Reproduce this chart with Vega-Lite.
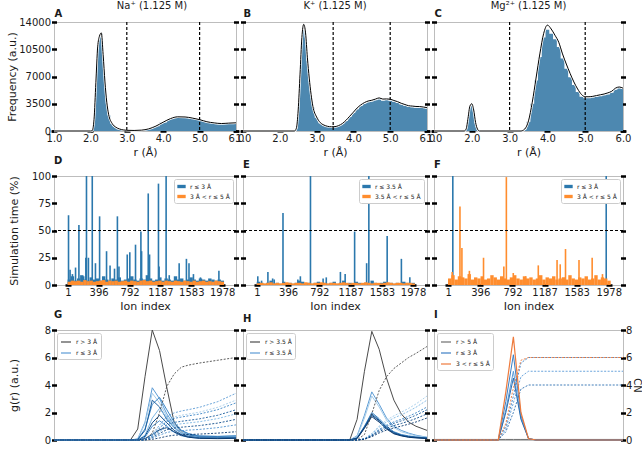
{
  "$schema": "https://vega.github.io/schema/vega-lite/v6.json",
  "background": "white",
  "padding": {"left": 6, "top": 0, "right": 0, "bottom": 0},
  "config": {
    "font": "DejaVu Sans",
    "view": {"stroke": "#bdbdbd", "strokeWidth": 1},
    "axis": {"grid": false, "domain": false, "tickColor": "#000000", "labelColor": "#1a1a1a", "titleColor": "#1a1a1a", "labelFontSize": 10, "titleFontSize": 11, "titleFontWeight": "normal", "labelFlush": false, "labelOverlap": false},
    "axisLeft": {"tickSize": 5, "tickWidth": 2.5, "offset": -2.5, "labelPadding": 1, "titlePadding": 1},
    "axisRight": {"tickSize": 5, "tickWidth": 2.5, "offset": -2.5, "labelPadding": 0, "titlePadding": 0},
    "axisBottom": {"tickSize": 2.5, "tickWidth": 6, "offset": -1.25, "labelPadding": 1, "titlePadding": 3},
    "axisTop": {"ticks": false, "labels": false, "domain": false, "titleFontWeight": "bold", "titleFontSize": 10, "titleAnchor": "start", "titlePadding": 4},
    "title": {"fontSize": 10, "fontWeight": "normal", "color": "#1a1a1a", "frame": "group", "offset": 0},
    "legend": {"title": null, "padding": 3, "strokeColor": "#cccccc", "fillColor": "white", "labelFontSize": 6, "rowPadding": 2, "labelColor": "#1a1a1a", "cornerRadius": 2}
  },
  "datasets": {
    "hA": [
      {"r":1.0,"h":0,"k":0},{"r":2.0,"h":0,"k":0},{"r":2.05,"h":0,"k":50},{"r":2.1,"h":1500,"k":1500},{"r":2.15,"h":6000,"k":6200},{"r":2.2,"h":10500,"k":10800},{"r":2.25,"h":12000,"k":12200},{"r":2.3,"h":12500,"k":12600},{"r":2.35,"h":9500,"k":9800},{"r":2.4,"h":6000,"k":6300},{"r":2.45,"h":3500,"k":3700},{"r":2.5,"h":2000,"k":2150},{"r":2.6,"h":900,"k":950},{"r":2.7,"h":450,"k":480},{"r":2.8,"h":250,"k":260},{"r":2.9,"h":130,"k":140},{"r":3.0,"h":80,"k":90},{"r":3.2,"h":60,"k":70},{"r":3.4,"h":100,"k":110},{"r":3.6,"h":250,"k":270},{"r":3.8,"h":600,"k":630},{"r":4.0,"h":1100,"k":1130},{"r":4.2,"h":1550,"k":1590},{"r":4.4,"h":1780,"k":1820},{"r":4.6,"h":1760,"k":1800},{"r":4.8,"h":1620,"k":1660},{"r":5.0,"h":1420,"k":1460},{"r":5.2,"h":1150,"k":1190},{"r":5.4,"h":1000,"k":1040},{"r":5.6,"h":920,"k":960},{"r":5.8,"h":980,"k":1010},{"r":6.0,"h":1020,"k":1050}
    ],
    "hB": [
      {"r":1.0,"h":0,"k":0},{"r":2.4,"h":0,"k":0},{"r":2.45,"h":300,"k":350},{"r":2.5,"h":2500,"k":2700},{"r":2.55,"h":7000,"k":7300},{"r":2.6,"h":11500,"k":12000},{"r":2.65,"h":13000,"k":13700},{"r":2.7,"h":12000,"k":12600},{"r":2.75,"h":9000,"k":9400},{"r":2.8,"h":6500,"k":6800},{"r":2.85,"h":4500,"k":4700},{"r":2.9,"h":3000,"k":3150},{"r":3.0,"h":1700,"k":1800},{"r":3.1,"h":1000,"k":1080},{"r":3.2,"h":700,"k":760},{"r":3.3,"h":550,"k":600},{"r":3.4,"h":500,"k":540},{"r":3.5,"h":520,"k":560},{"r":3.6,"h":650,"k":700},{"r":3.7,"h":900,"k":960},{"r":3.8,"h":1300,"k":1380},{"r":3.9,"h":1800,"k":1900},{"r":4.0,"h":2300,"k":2420},{"r":4.1,"h":2800,"k":2950},{"r":4.2,"h":3200,"k":3350},{"r":4.3,"h":3500,"k":3650},{"r":4.4,"h":3700,"k":3850},{"r":4.5,"h":3800,"k":3950},{"r":4.6,"h":3950,"k":4100},{"r":4.7,"h":4050,"k":4250},{"r":4.8,"h":3900,"k":4100},{"r":4.9,"h":3950,"k":4120},{"r":5.0,"h":3900,"k":4080},{"r":5.1,"h":3750,"k":3920},{"r":5.2,"h":3600,"k":3770},{"r":5.3,"h":3400,"k":3560},{"r":5.4,"h":3250,"k":3400},{"r":5.5,"h":3100,"k":3250},{"r":5.6,"h":3050,"k":3200},{"r":5.7,"h":3000,"k":3150},{"r":5.8,"h":3000,"k":3140},{"r":5.9,"h":2950,"k":3080},{"r":6.0,"h":2900,"k":3000}
    ],
    "hC": [
      {"r":1.0,"h":0,"k":0},{"r":1.8,"h":0,"k":0},{"r":1.85,"h":200,"k":250},{"r":1.9,"h":1500,"k":1650},{"r":1.95,"h":3000,"k":3200},{"r":2.0,"h":3300,"k":3500},{"r":2.05,"h":2500,"k":2700},{"r":2.1,"h":1000,"k":1100},{"r":2.15,"h":200,"k":250},{"r":2.2,"h":0,"k":0},{"r":3.3,"h":0,"k":0},{"r":3.4,"h":200,"k":250},{"r":3.5,"h":1200,"k":1300},{"r":3.6,"h":3500,"k":3700},{"r":3.7,"h":6500,"k":6800},{"r":3.8,"h":9500,"k":9900},{"r":3.9,"h":12000,"k":12500},{"r":4.0,"h":13000,"k":13600},{"r":4.1,"h":12500,"k":13100},{"r":4.2,"h":11800,"k":12300},{"r":4.3,"h":10800,"k":11400},{"r":4.4,"h":9300,"k":9900},{"r":4.5,"h":8000,"k":8600},{"r":4.6,"h":6900,"k":7400},{"r":4.7,"h":5900,"k":6300},{"r":4.8,"h":5000,"k":5400},{"r":4.9,"h":4400,"k":4700},{"r":5.0,"h":4200,"k":4400},{"r":5.1,"h":4200,"k":4400},{"r":5.2,"h":4300,"k":4450},{"r":5.3,"h":4400,"k":4550},{"r":5.4,"h":4450,"k":4650},{"r":5.5,"h":4600,"k":4750},{"r":5.6,"h":4700,"k":4900},{"r":5.7,"h":4900,"k":5100},{"r":5.8,"h":5300,"k":5500},{"r":5.9,"h":5500,"k":5650},{"r":6.0,"h":5400,"k":5500}
    ],
    "bD": [
      {"i":20,"b":5,"o":3},{"i":60,"b":8,"o":4},{"i":100,"b":4,"o":3.5},{"i":140,"b":6,"o":4},{"i":180,"b":9,"o":3},{"i":220,"b":5,"o":4.5},{"i":260,"b":4,"o":3.5},{"i":300,"b":7,"o":4},{"i":340,"b":5,"o":3},{"i":380,"b":6,"o":3.5},{"i":420,"b":4,"o":4},{"i":460,"b":8,"o":4.5},{"i":500,"b":5,"o":3},{"i":540,"b":4,"o":4},{"i":580,"b":6,"o":3.5},{"i":620,"b":5,"o":4},{"i":660,"b":7,"o":3},{"i":700,"b":4,"o":3.5},{"i":740,"b":5,"o":4},{"i":780,"b":6,"o":3},{"i":820,"b":8,"o":4},{"i":860,"b":5,"o":3.5},{"i":900,"b":4,"o":3},{"i":940,"b":6,"o":4},{"i":980,"b":5,"o":4.5},{"i":1020,"b":9,"o":3.5},{"i":1060,"b":6,"o":4},{"i":1100,"b":4,"o":3},{"i":1140,"b":5,"o":3.5},{"i":1180,"b":7,"o":4},{"i":1220,"b":4,"o":3},{"i":1260,"b":6,"o":4},{"i":1300,"b":5,"o":3.5},{"i":1340,"b":4,"o":3},{"i":1380,"b":8,"o":4},{"i":1420,"b":5,"o":3.5},{"i":1460,"b":6,"o":3},{"i":1500,"b":4,"o":4},{"i":1540,"b":5,"o":3.5},{"i":1580,"b":7,"o":3},{"i":1620,"b":5,"o":4},{"i":1660,"b":4,"o":3},{"i":1700,"b":6,"o":3.5},{"i":1740,"b":5,"o":4},{"i":1780,"b":4,"o":3},{"i":1820,"b":6,"o":3.5},{"i":1860,"b":5,"o":3},{"i":1900,"b":4,"o":4},{"i":1940,"b":5,"o":3.5},{"i":1980,"b":4,"o":3}
    ],
    "pD": [
      {"i":10,"b":64},{"i":30,"b":14},{"i":60,"b":10},{"i":100,"b":16},{"i":143,"b":55},{"i":204,"b":8},{"i":232,"b":25},{"i":240,"b":100},{"i":265,"b":25},{"i":314,"b":100},{"i":355,"b":20},{"i":408,"b":63},{"i":497,"b":31},{"i":542,"b":18},{"i":599,"b":15},{"i":636,"b":63},{"i":656,"b":17},{"i":762,"b":28},{"i":795,"b":30},{"i":868,"b":37},{"i":937,"b":49},{"i":946,"b":31},{"i":1031,"b":84},{"i":1048,"b":28},{"i":1162,"b":93},{"i":1170,"b":17},{"i":1260,"b":100},{"i":1300,"b":9},{"i":1427,"b":20},{"i":1520,"b":24},{"i":1553,"b":20},{"i":1610,"b":10},{"i":1700,"b":7},{"i":1936,"b":13}
    ],
    "bE": [
      {"i":20,"b":3,"o":1.5},{"i":60,"b":2,"o":2},{"i":100,"b":1,"o":1.5},{"i":140,"b":2,"o":2},{"i":180,"b":4,"o":2.5},{"i":220,"b":1,"o":1.5},{"i":260,"b":2,"o":2},{"i":300,"b":1,"o":1.5},{"i":340,"b":3,"o":2},{"i":380,"b":1,"o":2.5},{"i":420,"b":2,"o":2},{"i":460,"b":1,"o":1.5},{"i":500,"b":2,"o":2},{"i":540,"b":4,"o":2},{"i":580,"b":3,"o":1.5},{"i":620,"b":1,"o":2.5},{"i":660,"b":2,"o":2},{"i":700,"b":1,"o":1.5},{"i":740,"b":2,"o":2},{"i":780,"b":3,"o":2},{"i":820,"b":1,"o":2.5},{"i":860,"b":2,"o":2},{"i":900,"b":1,"o":1.5},{"i":940,"b":2,"o":2},{"i":980,"b":3,"o":2},{"i":1020,"b":1,"o":1.5},{"i":1060,"b":2,"o":2},{"i":1100,"b":4,"o":2.5},{"i":1140,"b":1,"o":2},{"i":1180,"b":2,"o":1.5},{"i":1220,"b":1,"o":2},{"i":1260,"b":3,"o":2},{"i":1300,"b":2,"o":1.5},{"i":1340,"b":1,"o":2},{"i":1380,"b":2,"o":2.5},{"i":1420,"b":1,"o":2},{"i":1460,"b":4,"o":1.5},{"i":1500,"b":2,"o":2},{"i":1540,"b":1,"o":2},{"i":1580,"b":2,"o":1.5},{"i":1620,"b":3,"o":2},{"i":1660,"b":1,"o":2.5},{"i":1700,"b":2,"o":2},{"i":1740,"b":1,"o":1.5},{"i":1780,"b":2,"o":2},{"i":1820,"b":1,"o":2},{"i":1860,"b":3,"o":1.5},{"i":1900,"b":2,"o":2},{"i":1940,"b":1,"o":2},{"i":1980,"b":2,"o":1.5}
    ],
    "pE": [
      {"i":12,"b":8},{"i":60,"b":4},{"i":140,"b":12},{"i":200,"b":6},{"i":220,"b":5},{"i":331,"b":66},{"i":519,"b":5},{"i":551,"b":8},{"i":679,"b":100},{"i":839,"b":6},{"i":879,"b":7},{"i":1058,"b":12},{"i":1118,"b":10},{"i":1238,"b":49},{"i":1390,"b":20},{"i":1418,"b":100},{"i":1650,"b":45},{"i":1830,"b":24},{"i":1937,"b":7}
    ],
    "bF": [
      {"i":20,"o":6},{"i":60,"o":9},{"i":100,"o":5},{"i":140,"o":8},{"i":180,"o":7},{"i":220,"o":6},{"i":260,"o":10},{"i":300,"o":5},{"i":340,"o":7},{"i":380,"o":6},{"i":420,"o":8},{"i":460,"o":5},{"i":500,"o":6},{"i":540,"o":9},{"i":580,"o":7},{"i":620,"o":5},{"i":660,"o":8},{"i":700,"o":6},{"i":740,"o":5},{"i":780,"o":7},{"i":820,"o":9},{"i":860,"o":6},{"i":900,"o":5},{"i":940,"o":8},{"i":980,"o":6},{"i":1020,"o":7},{"i":1060,"o":5},{"i":1100,"o":6},{"i":1140,"o":9},{"i":1180,"o":5},{"i":1220,"o":7},{"i":1260,"o":6},{"i":1300,"o":8},{"i":1340,"o":5},{"i":1380,"o":6},{"i":1420,"o":7},{"i":1460,"o":5},{"i":1500,"o":9},{"i":1540,"o":6},{"i":1580,"o":5},{"i":1620,"o":7},{"i":1660,"o":6},{"i":1700,"o":8},{"i":1740,"o":5},{"i":1780,"o":6},{"i":1820,"o":9},{"i":1860,"o":5},{"i":1900,"o":7},{"i":1940,"o":6},{"i":1980,"o":4}
    ],
    "pF": [
      {"i":58,"b":100},{"i":1946,"b":100},
      {"i":50,"o":12},{"i":146,"o":72},{"i":170,"o":34},{"i":262,"o":13},{"i":436,"o":25},{"i":686,"o":17},{"i":717,"o":99},{"i":802,"o":11},{"i":956,"o":8},{"i":1110,"o":18},{"i":1341,"o":23},{"i":1380,"o":19},{"i":1445,"o":33},{"i":1611,"o":23},{"i":1773,"o":25},{"i":1900,"o":10}
    ],
    "lG": [
      {"r":1.0,"k":0,"kc":0,"s1":0,"s2":0,"s3":0,"s4":0,"s5":0,"s6":0,"s7":0,"s8":0,"c1":0,"c2":0,"c3":0,"c4":0,"c5":0,"c6":0,"c7":0,"c8":0},
      {"r":2.05,"k":0,"kc":0,"s1":0,"s2":0,"s3":0,"s4":0,"s5":0,"s6":0,"s7":0,"s8":0,"c1":0,"c2":0,"c3":0,"c4":0,"c5":0,"c6":0,"c7":0,"c8":0},
      {"r":2.15,"k":0.8,"kc":0,"s1":0.08,"s2":0.07,"s3":0.05,"s4":0.04,"s5":0,"s6":0,"s7":0,"s8":0,"c1":0,"c2":0,"c3":0,"c4":0,"c5":0,"c6":0,"c7":0,"c8":0},
      {"r":2.25,"k":4.6,"kc":0.05,"s1":1.3,"s2":1.2,"s3":0.8,"s4":0.7,"s5":0.35,"s6":0.27,"s7":0.2,"s8":0.1,"c1":0.03,"c2":0.03,"c3":0.03,"c4":0.02,"c5":0.02,"c6":0.02,"c7":0.01,"c8":0},
      {"r":2.35,"k":8.0,"kc":0.5,"s1":3.8,"s2":3.4,"s3":2.6,"s4":2.9,"s5":1.6,"s6":1.25,"s7":1.0,"s8":0.4,"c1":0.41,"c2":0.35,"c3":0.32,"c4":0.26,"c5":0.23,"c6":0.18,"c7":0.13,"c8":0.05},
      {"r":2.45,"k":6.5,"kc":2.0,"s1":3.0,"s2":2.7,"s3":3.1,"s4":2.4,"s5":2.3,"s6":1.8,"s7":1.4,"s8":0.75,"c1":1.09,"c2":0.93,"c3":0.86,"c4":0.7,"c5":0.61,"c6":0.48,"c7":0.35,"c8":0.15},
      {"r":2.55,"k":3.8,"kc":3.9,"s1":1.9,"s2":1.7,"s3":2.2,"s4":1.5,"s5":1.6,"s6":1.25,"s7":1.0,"s8":0.9,"c1":1.7,"c2":1.45,"c3":1.35,"c4":1.1,"c5":0.95,"c6":0.75,"c7":0.55,"c8":0.27},
      {"r":2.65,"k":1.3,"kc":4.8,"s1":1.1,"s2":1.0,"s3":1.3,"s4":0.9,"s5":0.9,"s6":0.7,"s7":0.56,"s8":0.6,"c1":1.97,"c2":1.68,"c3":1.57,"c4":1.28,"c5":1.1,"c6":0.87,"c7":0.64,"c8":0.35},
      {"r":2.75,"k":0.6,"kc":5.3,"s1":0.7,"s2":0.6,"s3":0.7,"s4":0.5,"s5":0.5,"s6":0.4,"s7":0.31,"s8":0.35,"c1":2.11,"c2":1.8,"c3":1.67,"c4":1.36,"c5":1.18,"c6":0.93,"c7":0.68,"c8":0.38},
      {"r":2.85,"k":0.4,"kc":5.45,"s1":0.45,"s2":0.4,"s3":0.45,"s4":0.35,"s5":0.3,"s6":0.25,"s7":0.2,"s8":0.2,"c1":2.21,"c2":1.89,"c3":1.76,"c4":1.43,"c5":1.24,"c6":0.98,"c7":0.72,"c8":0.4},
      {"r":3.0,"k":0.27,"kc":5.6,"s1":0.3,"s2":0.27,"s3":0.28,"s4":0.23,"s5":0.2,"s6":0.16,"s7":0.13,"s8":0.12,"c1":2.38,"c2":2.03,"c3":1.89,"c4":1.54,"c5":1.33,"c6":1.05,"c7":0.77,"c8":0.43},
      {"r":3.25,"k":0.2,"kc":5.8,"s1":0.27,"s2":0.24,"s3":0.25,"s4":0.2,"s5":0.18,"s6":0.15,"s7":0.11,"s8":0.1,"c1":2.79,"c2":2.38,"c3":2.21,"c4":1.8,"c5":1.56,"c6":1.23,"c7":0.9,"c8":0.5},
      {"r":3.5,"k":0.2,"kc":6.0,"s1":0.3,"s2":0.27,"s3":0.3,"s4":0.22,"s5":0.22,"s6":0.18,"s7":0.14,"s8":0.12,"c1":3.4,"c2":2.9,"c3":2.7,"c4":2.2,"c5":1.9,"c6":1.5,"c7":1.1,"c8":0.6}
    ],
    "lH": [
      {"r":1.0,"k":0,"kc":0,"s1":0,"s2":0,"s3":0,"s4":0,"s5":0,"s6":0,"c1":0,"c2":0,"c3":0,"c4":0,"c5":0,"c6":0},
      {"r":2.45,"k":0,"kc":0,"s1":0,"s2":0,"s3":0,"s4":0,"s5":0,"s6":0,"c1":0,"c2":0,"c3":0,"c4":0,"c5":0,"c6":0},
      {"r":2.55,"k":1.5,"kc":0,"s1":0.3,"s2":0.25,"s3":0.15,"s4":0.15,"s5":0.12,"s6":0.1,"c1":0,"c2":0,"c3":0,"c4":0,"c5":0,"c6":0},
      {"r":2.65,"k":5.0,"kc":0.4,"s1":1.8,"s2":1.6,"s3":1.0,"s4":0.95,"s5":0.9,"s6":0.85,"c1":0.1,"c2":0.09,"c3":0.07,"c4":0.07,"c5":0.06,"c6":0.05},
      {"r":2.75,"k":7.9,"kc":1.9,"s1":3.5,"s2":3.2,"s3":2.0,"s4":1.9,"s5":1.8,"s6":1.7,"c1":0.48,"c2":0.44,"c3":0.36,"c4":0.33,"c5":0.29,"c6":0.24},
      {"r":2.85,"k":6.6,"kc":3.6,"s1":2.6,"s2":2.4,"s3":1.55,"s4":1.45,"s5":1.4,"s6":1.3,"c1":1.02,"c2":0.93,"c3":0.77,"c4":0.7,"c5":0.61,"c6":0.51},
      {"r":2.95,"k":4.5,"kc":4.6,"s1":1.6,"s2":1.45,"s3":1.0,"s4":0.9,"s5":0.85,"s6":0.8,"c1":1.44,"c2":1.31,"c3":1.08,"c4":0.99,"c5":0.86,"c6":0.72},
      {"r":3.05,"k":2.9,"kc":5.2,"s1":1.0,"s2":0.9,"s3":0.6,"s4":0.55,"s5":0.5,"s6":0.45,"c1":1.76,"c2":1.6,"c3":1.32,"c4":1.21,"c5":1.05,"c6":0.88},
      {"r":3.15,"k":1.9,"kc":5.6,"s1":0.7,"s2":0.6,"s3":0.4,"s4":0.35,"s5":0.33,"s6":0.3,"c1":2.02,"c2":1.83,"c3":1.51,"c4":1.39,"c5":1.2,"c6":1.01},
      {"r":3.25,"k":1.3,"kc":6.0,"s1":0.5,"s2":0.45,"s3":0.3,"s4":0.25,"s5":0.22,"s6":0.2,"c1":2.3,"c2":2.09,"c3":1.73,"c4":1.58,"c5":1.37,"c6":1.15},
      {"r":3.35,"k":1.0,"kc":6.3,"s1":0.35,"s2":0.3,"s3":0.22,"s4":0.2,"s5":0.18,"s6":0.15,"c1":2.62,"c2":2.38,"c3":1.97,"c4":1.8,"c5":1.56,"c6":1.31},
      {"r":3.5,"k":0.7,"kc":6.8,"s1":0.2,"s2":0.2,"s3":0.15,"s4":0.15,"s5":0.12,"s6":0.1,"c1":3.2,"c2":2.9,"c3":2.4,"c4":2.2,"c5":1.9,"c6":1.6}
    ],
    "lI": [
      {"r":1.0,"k":0.04,"s1":0,"s2":0,"s3":0,"c1":0,"c2":0,"c3":0,"o":0,"oc":0},
      {"r":1.85,"k":0.04,"s1":0,"s2":0,"s3":0,"c1":0,"c2":0,"c3":0,"o":0,"oc":0},
      {"r":1.95,"k":0.04,"s1":2.8,"s2":2.2,"s3":2.0,"c1":1.0,"c2":0.8,"c3":0.6,"o":3.5,"oc":1.2},
      {"r":2.05,"k":0.04,"s1":6.2,"s2":5.0,"s3":4.5,"c1":3.2,"c2":2.7,"c3":2.0,"o":7.5,"oc":3.8},
      {"r":2.15,"k":0.04,"s1":1.8,"s2":1.6,"s3":1.5,"c1":5.6,"c2":4.6,"c3":3.7,"o":2.0,"oc":5.8},
      {"r":2.25,"k":0.04,"s1":0.1,"s2":0.1,"s3":0.1,"c1":6.0,"c2":5.0,"c3":4.0,"o":0.1,"oc":6.0},
      {"r":2.35,"k":0.04,"s1":0,"s2":0,"s3":0,"c1":6.0,"c2":5.0,"c3":4.0,"o":0,"oc":6.0},
      {"r":3.5,"k":0.04,"s1":0,"s2":0,"s3":0,"c1":6.0,"c2":5.0,"c3":4.0,"o":0,"oc":6.0}
    ]
  },
  "columns": 3,
  "spacing": {"row": 45, "column": 7},
  "bounds": "flush",
  "resolve": {"scale": {"color": "independent"}},
  "concat": [
    {
      "width": 182, "height": 109,
      "title": {"text": "Na⁺ (1.125 M)", "dx": 7, "offset": -3},
      "data": {"name": "hA"},
      "layer": [
        {"mark": {"type": "area", "interpolate": "step", "color": "#4d88b0"},
         "encoding": {
           "x": {"field": "r", "type": "quantitative", "scale": {"domain": [1, 6], "nice": false}, "axis": {"values": [1, 2, 3, 4, 5, 6], "format": ".1f", "title": "r (Å)"}},
           "y": {"field": "h", "type": "quantitative", "scale": {"domain": [0, 14000], "nice": false}, "axis": {"values": [0, 3500, 7000, 10500, 14000], "format": "d", "title": "Frequency (a.u.)"}}}},
        {"mark": {"type": "line", "interpolate": "monotone", "color": "white", "strokeWidth": 2.4},
         "encoding": {"x": {"field": "r", "type": "quantitative", "axis": null}, "y": {"field": "k", "type": "quantitative", "axis": null}}},
        {"mark": {"type": "line", "interpolate": "monotone", "color": "black", "strokeWidth": 1},
         "encoding": {"x": {"field": "r", "type": "quantitative", "axis": null}, "y": {"field": "k", "type": "quantitative", "axis": {"orient": "right", "values": [0, 3500, 7000, 10500, 14000], "labels": false, "title": null}}}},
        {"data": {"values": [{"r": 3}, {"r": 5}]},
         "mark": {"type": "rule", "strokeDash": [3, 2], "color": "black", "strokeWidth": 1.2},
         "encoding": {"x": {"field": "r", "type": "quantitative", "axis": {"orient": "top", "title": "A"}}}}
      ],
      "resolve": {"axis": {"x": "independent", "y": "independent"}}
    },
    {
      "width": 184, "height": 109,
      "title": {"text": "K⁺ (1.125 M)", "offset": -3},
      "data": {"name": "hB"},
      "layer": [
        {"mark": {"type": "area", "interpolate": "step", "color": "#4d88b0"},
         "encoding": {
           "x": {"field": "r", "type": "quantitative", "scale": {"domain": [1, 6], "nice": false}, "axis": {"values": [1, 2, 3, 4, 5, 6], "format": ".1f", "title": "r (Å)"}},
           "y": {"field": "h", "type": "quantitative", "scale": {"domain": [0, 14000], "nice": false}, "axis": {"values": [0, 3500, 7000, 10500, 14000], "labels": false, "title": null}}}},
        {"mark": {"type": "line", "interpolate": "monotone", "color": "white", "strokeWidth": 2.4},
         "encoding": {"x": {"field": "r", "type": "quantitative", "axis": null}, "y": {"field": "k", "type": "quantitative", "axis": null}}},
        {"mark": {"type": "line", "interpolate": "monotone", "color": "black", "strokeWidth": 1},
         "encoding": {"x": {"field": "r", "type": "quantitative", "axis": null}, "y": {"field": "k", "type": "quantitative", "axis": {"orient": "right", "values": [0, 3500, 7000, 10500, 14000], "labels": false, "title": null}}}},
        {"data": {"values": [{"r": 3.45}, {"r": 5}]},
         "mark": {"type": "rule", "strokeDash": [3, 2], "color": "black", "strokeWidth": 1.2},
         "encoding": {"x": {"field": "r", "type": "quantitative", "axis": {"orient": "top", "title": "B"}}}}
      ],
      "resolve": {"axis": {"x": "independent", "y": "independent"}}
    },
    {
      "width": 189, "height": 109,
      "title": {"text": "Mg²⁺ (1.125 M)", "offset": -3},
      "data": {"name": "hC"},
      "layer": [
        {"mark": {"type": "area", "interpolate": "step", "color": "#4d88b0"},
         "encoding": {
           "x": {"field": "r", "type": "quantitative", "scale": {"domain": [1, 6], "nice": false}, "axis": {"values": [1, 2, 3, 4, 5, 6], "format": ".1f", "title": "r (Å)"}},
           "y": {"field": "h", "type": "quantitative", "scale": {"domain": [0, 14000], "nice": false}, "axis": {"values": [0, 3500, 7000, 10500, 14000], "labels": false, "title": null}}}},
        {"mark": {"type": "line", "interpolate": "monotone", "color": "white", "strokeWidth": 2.4},
         "encoding": {"x": {"field": "r", "type": "quantitative", "axis": null}, "y": {"field": "k", "type": "quantitative", "axis": null}}},
        {"mark": {"type": "line", "interpolate": "monotone", "color": "black", "strokeWidth": 1},
         "encoding": {"x": {"field": "r", "type": "quantitative", "axis": null}, "y": {"field": "k", "type": "quantitative", "axis": {"orient": "right", "values": [0, 3500, 7000, 10500, 14000], "labels": false, "title": null}}}},
        {"data": {"values": [{"r": 3}, {"r": 5}]},
         "mark": {"type": "rule", "strokeDash": [3, 2], "color": "black", "strokeWidth": 1.2},
         "encoding": {"x": {"field": "r", "type": "quantitative", "axis": {"orient": "top", "title": "C"}}}}
      ],
      "resolve": {"axis": {"x": "independent", "y": "independent"}}
    },
    {
      "width": 182, "height": 109,
      "title": {"text": "D", "anchor": "start", "fontWeight": "bold", "offset": 5},
      "layer": [
        {"data": {"name": "bD"}, "mark": {"type": "bar", "width": 3.4},
         "encoding": {
           "x": {"field": "i", "type": "quantitative", "scale": {"domain": [-112, 2091], "nice": false}, "axis": {"values": [1, 396, 792, 1187, 1583, 1978], "format": "d", "title": "Ion index"}},
           "y": {"field": "b", "type": "quantitative", "stack": null, "scale": {"domain": [0, 100], "nice": false}, "axis": {"values": [0, 25, 50, 75, 100], "title": "Simulation time (%)", "titlePadding": 12}},
           "color": {"datum": "r ≤ 3 Å", "type": "nominal", "scale": {"domain": ["r ≤ 3 Å", "3 Å < r ≤ 5 Å"], "range": ["#2b78ad", "#ff8d2e"]},
             "legend": {"orient": "top-right", "offset": 3, "symbolType": "M-1,-0.4H1V0.4H-1Z", "symbolSize": 70, "symbolStrokeWidth": 0}}}},
        {"data": {"name": "pD"}, "transform": [{"filter": "isValid(datum.b)"}], "mark": {"type": "bar", "width": 1.6},
         "encoding": {"x": {"field": "i", "type": "quantitative", "axis": null}, "y": {"field": "b", "type": "quantitative", "stack": null, "axis": null}, "color": {"datum": "r ≤ 3 Å", "type": "nominal"}}},
        {"data": {"name": "bD"}, "mark": {"type": "bar", "width": 3.4},
         "encoding": {"x": {"field": "i", "type": "quantitative", "axis": null}, "y": {"field": "o", "type": "quantitative", "stack": null, "axis": null}, "color": {"datum": "3 Å < r ≤ 5 Å", "type": "nominal"}}},
        {"data": {"values": [{"y": 50}]}, "mark": {"type": "rule", "strokeDash": [3, 2], "color": "black", "strokeWidth": 1},
         "encoding": {"y": {"field": "y", "type": "quantitative", "axis": {"orient": "right", "values": [0, 25, 50, 75, 100], "labels": false, "title": null}}}}
      ],
      "resolve": {"axis": {"x": "independent", "y": "independent"}}
    },
    {
      "width": 184, "height": 109,
      "title": {"text": "E", "anchor": "start", "fontWeight": "bold", "offset": 5},
      "layer": [
        {"data": {"name": "bE"}, "mark": {"type": "bar", "width": 3.4},
         "encoding": {
           "x": {"field": "i", "type": "quantitative", "scale": {"domain": [-112, 2091], "nice": false}, "axis": {"values": [1, 396, 792, 1187, 1583, 1978], "format": "d", "title": "Ion index"}},
           "y": {"field": "b", "type": "quantitative", "stack": null, "scale": {"domain": [0, 100], "nice": false}, "axis": {"values": [0, 25, 50, 75, 100], "labels": false, "title": null}},
           "color": {"datum": "r ≤ 3.5 Å", "type": "nominal", "scale": {"domain": ["r ≤ 3.5 Å", "3.5 Å < r ≤ 5 Å"], "range": ["#2b78ad", "#ff8d2e"]},
             "legend": {"orient": "top-right", "offset": 3, "symbolType": "M-1,-0.4H1V0.4H-1Z", "symbolSize": 70, "symbolStrokeWidth": 0}}}},
        {"data": {"name": "pE"}, "transform": [{"filter": "isValid(datum.b)"}], "mark": {"type": "bar", "width": 1.6},
         "encoding": {"x": {"field": "i", "type": "quantitative", "axis": null}, "y": {"field": "b", "type": "quantitative", "stack": null, "axis": null}, "color": {"datum": "r ≤ 3.5 Å", "type": "nominal"}}},
        {"data": {"name": "bE"}, "mark": {"type": "bar", "width": 3.4},
         "encoding": {"x": {"field": "i", "type": "quantitative", "axis": null}, "y": {"field": "o", "type": "quantitative", "stack": null, "axis": null}, "color": {"datum": "3.5 Å < r ≤ 5 Å", "type": "nominal"}}},
        {"data": {"values": [{"y": 50}]}, "mark": {"type": "rule", "strokeDash": [3, 2], "color": "black", "strokeWidth": 1},
         "encoding": {"y": {"field": "y", "type": "quantitative", "axis": {"orient": "right", "values": [0, 25, 50, 75, 100], "labels": false, "title": null}}}}
      ],
      "resolve": {"axis": {"x": "independent", "y": "independent"}}
    },
    {
      "width": 189, "height": 109,
      "title": {"text": "F", "anchor": "start", "fontWeight": "bold", "offset": 5},
      "layer": [
        {"data": {"name": "pF"}, "transform": [{"filter": "isValid(datum.b)"}], "mark": {"type": "bar", "width": 1.6},
         "encoding": {
           "x": {"field": "i", "type": "quantitative", "scale": {"domain": [-112, 2091], "nice": false}, "axis": {"values": [1, 396, 792, 1187, 1583, 1978], "format": "d", "title": "Ion index"}},
           "y": {"field": "b", "type": "quantitative", "stack": null, "scale": {"domain": [0, 100], "nice": false}, "axis": {"values": [0, 25, 50, 75, 100], "labels": false, "title": null}},
           "color": {"datum": "r ≤ 3 Å", "type": "nominal", "scale": {"domain": ["r ≤ 3 Å", "3 Å < r ≤ 5 Å"], "range": ["#2b78ad", "#ff8d2e"]},
             "legend": {"orient": "top-right", "offset": 3, "symbolType": "M-1,-0.4H1V0.4H-1Z", "symbolSize": 70, "symbolStrokeWidth": 0}}}},
        {"data": {"name": "bF"}, "mark": {"type": "bar", "width": 3.4},
         "encoding": {"x": {"field": "i", "type": "quantitative", "axis": null}, "y": {"field": "o", "type": "quantitative", "stack": null, "axis": null}, "color": {"datum": "3 Å < r ≤ 5 Å", "type": "nominal"}}},
        {"data": {"name": "pF"}, "transform": [{"filter": "isValid(datum.o)"}], "mark": {"type": "bar", "width": 1.6},
         "encoding": {"x": {"field": "i", "type": "quantitative", "axis": null}, "y": {"field": "o", "type": "quantitative", "stack": null, "axis": null}, "color": {"datum": "3 Å < r ≤ 5 Å", "type": "nominal"}}},
        {"data": {"values": [{"y": 50}]}, "mark": {"type": "rule", "strokeDash": [3, 2], "color": "black", "strokeWidth": 1},
         "encoding": {"y": {"field": "y", "type": "quantitative", "axis": {"orient": "right", "values": [0, 25, 50, 75, 100], "labels": false, "title": null}}}}
      ],
      "resolve": {"axis": {"x": "independent", "y": "independent"}}
    },
    {
      "width": 182, "height": 110,
      "title": {"text": "G", "anchor": "start", "fontWeight": "bold", "offset": 5},
      "data": {"name": "lG"},
      "layer": [
        {"transform": [{"fold": ["k", "s1", "s2", "s3", "s4", "s5", "s6", "s7", "s8"], "as": ["id", "y"]}],
         "mark": {"type": "line", "strokeWidth": 1},
         "encoding": {
           "x": {"field": "r", "type": "quantitative", "scale": {"domain": [1, 3.5], "nice": false}, "axis": {"values": [1, 1.5, 2, 2.5, 3, 3.5], "format": ".1f", "title": "r (Å)"}},
           "y": {"field": "y", "type": "quantitative", "scale": {"domain": [0, 8], "nice": false}, "axis": {"values": [0, 2, 4, 6, 8], "title": "g(r) (a.u.)", "titlePadding": 25}},
           "color": {"field": "id", "type": "nominal",
             "scale": {"domain": ["k", "s1", "s2", "s3", "s4", "s5", "s6", "s7", "s8", "kc", "c1", "c2", "c3", "c4", "c5", "c6", "c7", "c8"],
                       "range": ["#4a4a4a", "#5b9bd5", "#a6cdea", "#3c86c6", "#1c5f9f", "#7db7e3", "#0f4c8a", "#4f92cf", "#0b3a70", "#4a4a4a", "#5b9bd5", "#a6cdea", "#3c86c6", "#1c5f9f", "#7db7e3", "#0f4c8a", "#4f92cf", "#0b3a70"]},
             "legend": {"orient": "top-left", "offset": 3, "values": ["k", "s1"], "labelExpr": "datum.label == 'k' ? 'r > 3 Å' : 'r ≤ 3 Å'", "symbolType": "stroke", "symbolSize": 100, "symbolStrokeWidth": 1.2}}}},
        {"transform": [{"fold": ["kc", "c1", "c2", "c3", "c4", "c5", "c6", "c7", "c8"], "as": ["id", "y"]}],
         "mark": {"type": "line", "strokeWidth": 0.9, "strokeDash": [2, 1.5]},
         "encoding": {
           "x": {"field": "r", "type": "quantitative", "axis": null},
           "y": {"field": "y", "type": "quantitative", "axis": {"orient": "right", "values": [0, 2, 4, 6, 8], "labels": false, "title": null}},
           "color": {"field": "id", "type": "nominal",
             "scale": {"domain": ["k", "s1", "s2", "s3", "s4", "s5", "s6", "s7", "s8", "kc", "c1", "c2", "c3", "c4", "c5", "c6", "c7", "c8"],
                       "range": ["#4a4a4a", "#5b9bd5", "#a6cdea", "#3c86c6", "#1c5f9f", "#7db7e3", "#0f4c8a", "#4f92cf", "#0b3a70", "#4a4a4a", "#5b9bd5", "#a6cdea", "#3c86c6", "#1c5f9f", "#7db7e3", "#0f4c8a", "#4f92cf", "#0b3a70"]},
             "legend": null}}}
      ],
      "resolve": {"axis": {"y": "independent"}}
    },
    {
      "width": 184, "height": 110,
      "title": {"text": "H", "anchor": "start", "fontWeight": "bold", "offset": 5},
      "data": {"name": "lH"},
      "layer": [
        {"transform": [{"fold": ["k", "s1", "s2", "s3", "s4", "s5", "s6"], "as": ["id", "y"]}],
         "mark": {"type": "line", "strokeWidth": 1},
         "encoding": {
           "x": {"field": "r", "type": "quantitative", "scale": {"domain": [1, 3.5], "nice": false}, "axis": {"values": [1, 1.5, 2, 2.5, 3, 3.5], "format": ".1f", "title": "r (Å)"}},
           "y": {"field": "y", "type": "quantitative", "scale": {"domain": [0, 8], "nice": false}, "axis": {"values": [0, 2, 4, 6, 8], "labels": false, "title": null}},
           "color": {"field": "id", "type": "nominal",
             "scale": {"domain": ["k", "s1", "s2", "s3", "s4", "s5", "s6", "kc", "c1", "c2", "c3", "c4", "c5", "c6"],
                       "range": ["#4a4a4a", "#5b9bd5", "#a6cdea", "#3c86c6", "#1c5f9f", "#0f4c8a", "#0b3a70", "#4a4a4a", "#a6cdea", "#7db7e3", "#3c86c6", "#1c5f9f", "#0f4c8a", "#0b3a70"]},
             "legend": {"orient": "top-left", "offset": 3, "values": ["k", "s1"], "labelExpr": "datum.label == 'k' ? 'r > 3.5 Å' : 'r ≤ 3.5 Å'", "symbolType": "stroke", "symbolSize": 100, "symbolStrokeWidth": 1.2}}}},
        {"transform": [{"fold": ["kc", "c1", "c2", "c3", "c4", "c5", "c6"], "as": ["id", "y"]}],
         "mark": {"type": "line", "strokeWidth": 0.9, "strokeDash": [2, 1.5]},
         "encoding": {
           "x": {"field": "r", "type": "quantitative", "axis": null},
           "y": {"field": "y", "type": "quantitative", "axis": {"orient": "right", "values": [0, 2, 4, 6, 8], "labels": false, "title": null}},
           "color": {"field": "id", "type": "nominal",
             "scale": {"domain": ["k", "s1", "s2", "s3", "s4", "s5", "s6", "kc", "c1", "c2", "c3", "c4", "c5", "c6"],
                       "range": ["#4a4a4a", "#5b9bd5", "#a6cdea", "#3c86c6", "#1c5f9f", "#0f4c8a", "#0b3a70", "#4a4a4a", "#a6cdea", "#7db7e3", "#3c86c6", "#1c5f9f", "#0f4c8a", "#0b3a70"]},
             "legend": null}}}
      ],
      "resolve": {"axis": {"y": "independent"}}
    },
    {
      "width": 189, "height": 110,
      "title": {"text": "I", "anchor": "start", "fontWeight": "bold", "offset": 5},
      "data": {"name": "lI"},
      "layer": [
        {"transform": [{"fold": ["k", "s1", "s2", "s3"], "as": ["id", "y"]}],
         "mark": {"type": "line", "strokeWidth": 1},
         "encoding": {
           "x": {"field": "r", "type": "quantitative", "scale": {"domain": [1, 3.5], "nice": false}, "axis": {"values": [1, 1.5, 2, 2.5, 3, 3.5], "format": ".1f", "title": "r (Å)"}},
           "y": {"field": "y", "type": "quantitative", "scale": {"domain": [0, 8], "nice": false}, "axis": {"values": [0, 2, 4, 6, 8], "labels": false, "title": null}},
           "color": {"field": "id", "type": "nominal",
             "scale": {"domain": ["k", "s1", "s2", "s3", "c1", "c2", "c3", "o", "oc"],
                       "range": ["#6e6e6e", "#3b7fc4", "#5a9bd8", "#2a6db0", "#3b7fc4", "#5a9bd8", "#2a6db0", "#ee7a3c", "#ee7a3c"]},
             "legend": {"orient": "top-left", "offset": 3, "values": ["k", "s1", "o"], "labelExpr": "datum.label == 'k' ? 'r > 5 Å' : datum.label == 's1' ? 'r ≤ 3 Å' : '3 < r ≤ 5 Å'", "symbolType": "stroke", "symbolSize": 100, "symbolStrokeWidth": 1.2}}}},
        {"transform": [{"fold": ["c1", "c2", "c3", "oc"], "as": ["id", "y"]}],
         "mark": {"type": "line", "strokeWidth": 0.9, "strokeDash": [2, 1.5]},
         "encoding": {
           "x": {"field": "r", "type": "quantitative", "axis": null},
           "y": {"field": "y", "type": "quantitative", "axis": {"orient": "right", "values": [0, 2, 4, 6, 8], "title": "CN", "titleFontSize": 10}},
           "color": {"field": "id", "type": "nominal",
             "scale": {"domain": ["k", "s1", "s2", "s3", "c1", "c2", "c3", "o", "oc"],
                       "range": ["#6e6e6e", "#3b7fc4", "#5a9bd8", "#2a6db0", "#3b7fc4", "#5a9bd8", "#2a6db0", "#ee7a3c", "#ee7a3c"]},
             "legend": null}}},
        {"transform": [{"fold": ["o"], "as": ["id", "y"]}],
         "mark": {"type": "line", "strokeWidth": 1.2},
         "encoding": {
           "x": {"field": "r", "type": "quantitative", "axis": null},
           "y": {"field": "y", "type": "quantitative", "axis": null},
           "color": {"field": "id", "type": "nominal",
             "scale": {"domain": ["k", "s1", "s2", "s3", "c1", "c2", "c3", "o", "oc"],
                       "range": ["#6e6e6e", "#3b7fc4", "#5a9bd8", "#2a6db0", "#3b7fc4", "#5a9bd8", "#2a6db0", "#ee7a3c", "#ee7a3c"]},
             "legend": null}}}
      ],
      "resolve": {"axis": {"y": "independent"}}
    }
  ]
}
